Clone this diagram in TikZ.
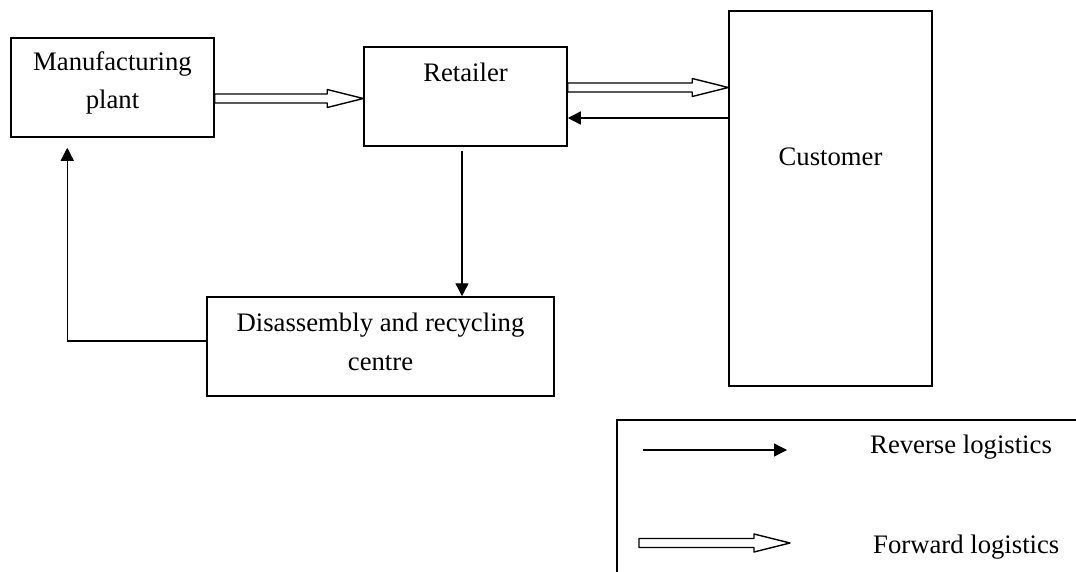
\documentclass[tikz,border=0pt]{standalone}
\usepackage{fontspec}
\setmainfont{Liberation Serif}
\usetikzlibrary{arrows.meta,calc}

\tikzset{
  box/.style={draw, line width=1.5pt, inner sep=0pt},
  txt/.style={inner sep=0pt, align=center, font=\fontsize{26.7}{38.5}\selectfont},
  rev/.style={draw, line width=1.4pt, -{Triangle[length=13pt,width=13pt]}},
  fwd/.style={draw, line width=1.4pt, line join=round,
    to path={let \p1=(\tikztostart), \p2=(\tikztotarget) in
      (\x1,\y1+4.5pt) -- (\x2-36pt,\y1+4.5pt) -- (\x2-36pt,\y1+9pt) -- (\x2,\y1)
      -- (\x2-36pt,\y1-9pt) -- (\x2-36pt,\y1-4.5pt) -- (\x1,\y1-4.5pt) -- cycle}},
}

\begin{document}
\begin{tikzpicture}[x=1pt,y=-1pt]
  \clip (0,0) rectangle (1076,571);
  \fill[white] (0,0) rectangle (1076,571);

  % boxes
  \node[box, minimum width=203pt, minimum height=99pt] (mfg) at (112.5,87.5) {};
  \node[box, minimum width=203pt, minimum height=99pt] (ret) at (465.5,96.5) {};
  \node[box, minimum width=203pt, minimum height=375pt] (cust) at (830.5,198.5) {};
  \node[box, minimum width=347pt, minimum height=99pt] (dis) at (380.5,346.5) {};
  \node[box, minimum width=483pt, minimum height=180pt] (leg) at (858.5,510) {};

  % texts
  \node[txt, anchor=north] (mfgtxt) at ([yshift=-14pt]mfg.north) {Manufacturing\\plant};
  \node[txt, anchor=base] (rettxt) at ([yshift=-35pt]ret.north) {Retailer};
  \node[txt, anchor=base] (custtxt) at ([yshift=-155pt]cust.north) {Customer};
  \node[txt, anchor=north] (distxt) at ([yshift=-17pt]dis.north) {Disassembly and recycling\\centre};
  \node[txt, anchor=base west] (revtxt) at (870,453) {Reverse logistics};
  \node[txt, anchor=base west] (fwdtxt) at (873,553) {Forward logistics};

  % flows
  \coordinate (r1) at ([yshift=-2pt]ret.west);
  \draw[fwd] (mfg.east |- r1) to (r1);
  \coordinate (r2) at ([yshift=9pt]ret.east);
  \draw[fwd] (r2) to (cust.west |- r2);
  \coordinate (r3) at ([yshift=-21.5pt]ret.east);
  \draw[rev] (cust.west |- r3) -- (r3);
  \coordinate (r4) at ([xshift=-3.5pt,yshift=-4pt]ret.south);
  \draw[rev] (r4) -- (r4 |- dis.north);
  \coordinate (m1) at ([xshift=57pt,yshift=-10pt]mfg.south west);
  \draw[rev] ([yshift=5.5pt]dis.west) -| (m1);

  % legend
  \coordinate (l1) at (643,450);
  \coordinate (l2) at (787,450);
  \draw[rev] (l1) -- (l2);
  \coordinate (l3) at (639,543);
  \coordinate (l4) at (790,543);
  \draw[fwd] (l3) to (l4);
\end{tikzpicture}
\end{document}
